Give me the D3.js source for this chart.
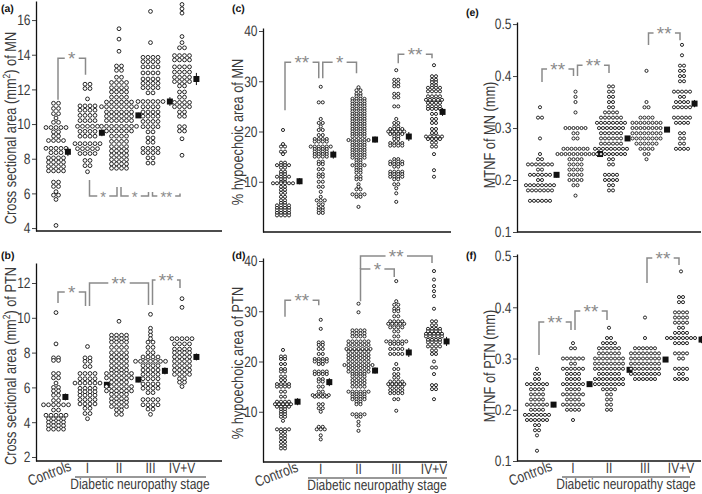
<!DOCTYPE html>
<html><head><meta charset="utf-8">
<script src="https://cdn.jsdelivr.net/npm/d3@7"></script>
<style>
body{margin:0;background:#fff}
text{font-family:"Liberation Sans",Arial,sans-serif;-webkit-font-smoothing:antialiased;text-rendering:geometricPrecision}
</style></head><body><svg id="c" width="702" height="494"></svg>
<script>
const groups = ["Controls", "I", "II", "III", "IV+V"];

// Each group: rows of [value, number of subjects at that value]
// (a) Cross sectional area of MN (mm2)
const csaMNRows = [
  [[11.2,2],[10.9,2],[10.6,2],[10.35,1],[10.1,2],[9.8,5],[9.55,2],[9.3,2],[9.05,4],[8.6,5],[8.35,3],[8.05,4],[7.8,4],[7.55,4],[7.3,4],[6.65,2],[6.4,2],[6.1,1],[5.9,2],[5.65,1],[4.15,1]],
  [[12.3,2],[12.05,2],[11.45,1],[11.05,4],[10.8,4],[10.5,4],[10.2,4],[9.87,5],[9.58,4],[9.3,4],[8.87,6],[8.58,5],[8.3,4],[7.9,2],[7.6,2],[7.25,1]],
  [[15.5,1],[14.9,1],[14.2,1],[13.35,2],[13.1,2],[12.7,2],[12.4,4],[12.1,4],[11.85,4],[11.55,4],[11.27,6],[11.0,8],[10.7,6],[10.45,6],[10.2,6],[9.87,8],[9.6,6],[9.3,4],[9.0,4],[8.7,4],[8.45,4],[8.2,4],[7.95,4],[7.7,4],[7.45,4]],
  [[16.5,1],[14.7,1],[13.85,4],[13.6,4],[13.3,4],[12.95,4],[12.6,4],[12.35,4],[12.1,4],[11.8,2],[11.3,6],[11.0,4],[10.7,4],[10.45,4],[10.15,4],[9.85,4],[9.55,2],[9.2,2],[8.95,2],[8.6,4],[8.35,4],[8.05,2],[7.75,2]],
  [[16.9,1],[16.65,1],[16.4,1],[15.05,1],[14.7,1],[14.4,2],[13.95,4],[13.7,4],[13.3,4],[13.0,4],[12.7,4],[12.45,4],[12.2,2],[11.85,2],[11.55,2],[11.25,4],[11.0,4],[10.7,2],[10.45,2],[9.85,2],[9.6,2],[9.15,1],[8.2,1]]
];
const csaMNMeans = [8.4, 9.5, 10.5, 11.3, 12.6];
const csaMNSE = [0.25, 0.2, 0.15, 0.25, 0.35];

// (b) Cross sectional area of PTN (mm2)
const csaPTNRows = [
  [[10.3,1],[8.5,1],[7.7,2],[7.55,2],[6.8,2],[6.55,2],[6.25,1],[6.0,2],[5.8,2],[5.55,2],[5.25,2],[5.0,6],[4.7,2],[4.4,5],[4.2,4],[4.0,4],[3.8,4],[3.6,4]],
  [[8.35,1],[7.7,2],[7.5,2],[7.2,2],[6.8,4],[6.5,4],[6.25,6],[5.95,4],[5.75,4],[5.55,4],[5.3,4],[5.05,4],[4.8,2],[4.5,2],[4.2,1]],
  [[9.8,1],[9.0,4],[8.8,4],[8.6,4],[8.3,4],[8.0,4],[7.75,4],[7.5,4],[7.25,4],[7.0,4],[6.8,6],[6.55,6],[6.3,4],[6.05,6],[5.8,6],[5.6,4],[5.35,4],[5.15,4],[4.9,4],[4.7,2],[4.45,2]],
  [[10.2,1],[9.4,1],[9.2,1],[9.0,1],[8.8,1],[8.6,2],[8.3,2],[8.0,2],[7.75,4],[7.5,7],[7.25,4],[7.0,4],[6.75,4],[6.5,4],[6.2,4],[5.95,4],[5.7,2],[5.3,4],[5.0,4],[4.75,2],[4.45,1]],
  [[11.1,1],[10.6,1],[8.8,5],[8.5,4],[8.2,4],[8.0,4],[7.75,4],[7.5,4],[7.25,4],[7.0,4],[6.75,4],[6.5,2],[6.3,2],[6.05,1]]
];
const csaPTNMeans = [5.45, 6.15, 6.45, 6.95, 7.75];
const csaPTNSE = [0.2, 0.15, 0.15, 0.2, 0.2];

// (c) % hypoechoic area of MN
const hypoMNRows = [
  [[20.3,1],[17.5,1],[17.0,2],[16.0,2],[15.5,1],[13.8,2],[13.3,4],[12.8,2],[12.0,2],[11.5,2],[11.0,4],[10.5,2],[10.0,2],[9.7,6],[9.0,2],[8.4,2],[7.8,2],[7.0,2],[6.3,2],[5.8,2],[5.3,4],[4.8,4],[4.3,4],[3.8,4],[3.3,4]],
  [[28.9,1],[25.8,2],[22.5,1],[21.7,2],[21.0,1],[20.3,2],[19.3,2],[18.5,4],[18.0,4],[17.0,6],[16.5,4],[16.0,4],[15.5,4],[15.0,4],[14.0,2],[13.5,2],[12.5,2],[11.5,2],[11.0,2],[10.0,2],[9.0,2],[8.0,1],[7.0,1],[6.3,3],[5.5,2],[4.8,2],[4.3,2],[3.8,2]],
  [[28.8,1],[28.2,2],[27.5,2],[27.0,2],[26.5,4],[26.0,4],[25.5,4],[25.0,4],[24.5,4],[24.0,4],[23.5,4],[23.0,4],[22.5,4],[22.0,4],[21.5,4],[21.0,4],[20.5,4],[20.0,4],[19.5,4],[19.0,4],[18.3,6],[17.8,4],[17.3,4],[16.8,4],[16.3,4],[15.8,4],[15.3,4],[14.8,4],[14.3,2],[13.8,2],[13.3,4],[12.8,2],[12.3,2],[11.8,2],[11.0,2],[10.5,2],[9.5,1],[9.0,1],[8.5,2],[7.5,4],[7.0,2],[5.0,1]],
  [[32.2,1],[30.3,2],[29.6,2],[29.0,2],[27.5,2],[26.8,2],[25.0,2],[22.5,1],[21.7,2],[21.0,2],[20.5,4],[20.0,5],[19.5,4],[19.0,2],[18.5,2],[17.7,4],[17.2,4],[14.5,2],[14.0,4],[13.5,4],[13.0,2],[12.0,4],[11.5,4],[11.0,4],[10.5,2],[9.5,2],[8.7,1],[7.7,1],[6.0,1]],
  [[33.2,1],[31.0,2],[30.3,2],[29.8,2],[29.2,2],[28.7,4],[28.0,4],[27.0,4],[26.3,5],[25.7,4],[25.0,4],[24.5,4],[23.5,2],[22.5,2],[21.7,2],[20.5,2],[19.7,2],[19.0,5],[18.5,4],[17.8,2],[17.0,2],[15.5,1],[12.3,1],[11.0,1]]
];
const hypoMNMeans = [10.1, 15.4, 18.4, 19.0, 23.9];
const hypoMNSE = [0.6, 0.8, 0.6, 0.9, 0.8];

// (d) % hypoechoic area of PTN
const hypoPTNRows = [
  [[22.3,1],[21.0,2],[20.5,2],[19.5,2],[18.5,2],[18.0,2],[17.0,2],[16.3,2],[15.5,4],[15.0,4],[14.0,2],[13.0,2],[12.0,4],[11.5,5],[11.0,4],[10.5,2],[10.0,2],[9.5,2],[9.0,2],[8.2,1],[6.5,4],[6.0,2],[5.3,2],[4.7,2],[4.0,2],[3.3,2],[2.7,2]],
  [[28.3,1],[26.5,1],[23.8,2],[23.3,2],[22.5,2],[21.5,2],[20.5,4],[20.0,4],[19.5,2],[18.0,4],[17.5,4],[16.5,2],[16.0,2],[15.0,2],[14.0,2],[13.3,5],[13.0,4],[11.5,2],[10.7,2],[10.0,1],[7.0,2],[6.5,3],[5.3,1],[4.5,1]],
  [[31.5,1],[29.8,1],[26.2,4],[25.6,4],[25.0,4],[24.0,6],[23.3,6],[22.5,7],[22.0,6],[21.3,6],[20.7,6],[20.0,6],[19.3,8],[18.7,6],[18.0,6],[17.5,4],[17.0,4],[16.3,4],[15.7,4],[15.0,4],[14.0,6],[13.5,4],[13.0,4],[12.5,4],[12.0,2],[11.5,2],[9.5,4],[9.0,2],[8.0,1],[7.3,1],[6.2,1]],
  [[36.0,1],[32.0,1],[31.3,2],[30.5,2],[30.0,2],[29.0,2],[28.0,4],[27.5,5],[26.8,4],[26.0,2],[25.0,2],[24.0,6],[23.5,4],[22.5,4],[21.5,4],[19.5,1],[18.5,2],[17.5,2],[16.8,2],[16.0,4],[15.5,5],[15.0,4],[14.3,4],[13.7,4],[12.5,2],[10.2,1]],
  [[38.0,1],[36.3,1],[35.0,1],[34.0,1],[33.0,1],[30.5,1],[28.0,2],[27.2,2],[26.5,4],[26.0,4],[25.5,5],[25.0,5],[24.3,4],[23.8,4],[23.0,4],[22.2,2],[21.5,2],[20.0,1],[18.8,2],[17.5,1],[15.3,2],[14.5,2],[12.5,1]]
];
const hypoPTNMeans = [12.0, 15.9, 18.2, 21.8, 24.0];
const hypoPTNSE = [0.7, 0.8, 0.6, 0.9, 0.9];

// (e) MTNF of MN (mm)
const mtnfMNRows = [
  [[0.34,1],[0.32,2],[0.28,1],[0.25,1],[0.24,2],[0.23,7],[0.22,2],[0.21,6],[0.20,2],[0.19,8],[0.18,7],[0.16,6]],
  [[0.37,1],[0.36,1],[0.35,1],[0.33,1],[0.30,6],[0.29,2],[0.28,2],[0.26,7],[0.25,10],[0.24,4],[0.23,4],[0.22,4],[0.21,4],[0.20,4],[0.19,2],[0.17,1]],
  [[0.38,2],[0.37,2],[0.36,2],[0.35,2],[0.34,2],[0.33,4],[0.32,6],[0.31,8],[0.30,7],[0.29,6],[0.28,6],[0.27,6],[0.26,9],[0.25,8],[0.24,2],[0.23,2],[0.21,4],[0.20,4],[0.19,2],[0.18,2]],
  [[0.41,1],[0.35,1],[0.34,2],[0.32,4],[0.31,8],[0.30,8],[0.29,8],[0.28,8],[0.27,6],[0.26,4],[0.25,2],[0.24,1]],
  [[0.46,1],[0.44,1],[0.42,2],[0.41,2],[0.40,2],[0.39,2],[0.37,5],[0.36,2],[0.35,4],[0.34,5],[0.32,5],[0.31,4],[0.29,2],[0.28,2],[0.27,2],[0.26,4]]
];
const mtnfMNMeans = [0.21, 0.25, 0.28, 0.297, 0.347];
const mtnfMNSE = [0.005, 0.005, 0.004, 0.004, 0.007];

// (f) MTNF of PTN (mm)
const mtnfPTNRows = [
  [[0.28,1],[0.27,2],[0.26,2],[0.25,6],[0.24,4],[0.23,4],[0.22,4],[0.21,6],[0.20,4],[0.19,7],[0.18,6],[0.17,2],[0.16,2],[0.15,1],[0.12,1]],
  [[0.33,1],[0.32,2],[0.30,6],[0.29,2],[0.28,6],[0.27,4],[0.26,4],[0.25,6],[0.24,4],[0.23,6],[0.22,4],[0.21,6],[0.20,4],[0.18,1]],
  [[0.36,1],[0.34,2],[0.33,4],[0.32,6],[0.31,6],[0.30,8],[0.29,8],[0.28,8],[0.27,6],[0.26,8],[0.25,8],[0.24,4],[0.23,2],[0.22,2],[0.21,2],[0.20,2]],
  [[0.38,1],[0.34,1],[0.32,6],[0.31,8],[0.30,8],[0.29,8],[0.28,8],[0.27,8],[0.26,6]],
  [[0.47,1],[0.42,2],[0.41,2],[0.39,4],[0.38,4],[0.37,4],[0.36,2],[0.35,4],[0.34,8],[0.33,4],[0.31,4],[0.30,2],[0.28,4],[0.27,2],[0.26,4]]
];
const mtnfPTNMeans = [0.21, 0.25, 0.278, 0.298, 0.337];
const mtnfPTNSE = [0.005, 0.005, 0.004, 0.004, 0.007];

// Significance annotations: [from group, to group, label, bar level, left end, right end] (data units)
const csaMNSig = [[0,1,"*",13.8,11.4,12.85],[1,2,"*",5.85,6.77,6.37],[2,3,"*",5.85,6.37,6.08],[3,4,"**",5.85,6.08,6.0]];
const csaPTNSig = [[0,1,"*",11.48,10.85,10.68],[1,3,"**",12.0,10.68,10.74],[3,4,"**",12.17,10.74,11.71]];
const hypoMNSig = [[0,1,"**",33.8,24.25,30.6],[1,2,"*",33.8,30.6,31.6],[3,4,"**",35.4,33.6,34.6]];
const hypoPTNSig = [[0,1,"**",32.2,28.9,31.2],[2,3,"*",38.4,32.0,36.8],[2,4,"**",41.0,38.4,39.6]];
const mtnfMNSig = [[0,1,"**",0.4135,0.3885,0.4],[1,2,"**",0.421,0.4,0.4058],[3,4,"**",0.4827,0.4596,0.469]];
const mtnfPTNSig = [[0,1,"**",0.3712,0.3068,0.3556],[1,2,"**",0.3927,0.3556,0.3751],[3,4,"**",0.496,0.4473,0.4824]];

const yTicksCSAMN = [4,6,8,10,12,14,16];
const yTicksCSAPTN = [2,4,6,8,10,12];
const yTicksHypo = [10,20,30,40];
const yTicksMTNF = [0.1,0.2,0.3,0.4,0.5];

const svg = d3.select("#c");
const TXT = "#3a3a3a", SIG = "#8a8a8a";
const NX = 0.8; // horizontal condensing to mimic a narrow sans face

const panels = [
  {lab:"(a)", labPos:[1,12], rows:csaMNRows, means:csaMNMeans, se:csaMNSE, sig:csaMNSig, below:[false,true,true,true],
   yDom:[3.83,17.1], yRng:[231,1], ticks:yTicksCSAMN, fmt:d3.format("d"), ax:36, xEnd:222, xRng:[56,182], r:1.9, sp:5,
   title:["Cross sectional area (mm","2",") of MN"], tPos:[16,128], bottom:false},
  {lab:"(b)", labPos:[1,259], rows:csaPTNRows, means:csaPTNMeans, se:csaPTNSE, sig:csaPTNSig, below:[false,false,false],
   yDom:[1.77,13.15], yRng:[461,263], ticks:yTicksCSAPTN, fmt:d3.format("d"), ax:36, xEnd:222, xRng:[56,182], r:1.9, sp:5,
   title:["Cross sectional area (mm","2",") of PTN"], tPos:[16,366], bottom:true, under:[75,206], stageX:140},
  {lab:"(c)", labPos:[232,12], rows:hypoMNRows, means:hypoMNMeans, se:hypoMNSE, sig:hypoMNSig, below:[false,false,false],
   yDom:[0,40.6], yRng:[232,28], ticks:yTicksHypo, fmt:d3.format("d"), ax:263, xEnd:451, xRng:[283,434], r:1.55, sp:4,
   title:["% hypoechoic area of MN"], tPos:[243,132], bottom:false},
  {lab:"(d)", labPos:[232,259], rows:hypoPTNRows, means:hypoPTNMeans, se:hypoPTNSE, sig:hypoPTNSig, below:[false,false,false],
   yDom:[0,40.6], yRng:[462,258], ticks:yTicksHypo, fmt:d3.format("d"), ax:263, xEnd:447, xRng:[283,434], r:1.55, sp:4,
   title:["% hypoechoic area of PTN"], tPos:[243,363], bottom:true, under:[308,447], stageX:377},
  {lab:"(e)", labPos:[466,16], rows:mtnfMNRows, means:mtnfMNMeans, se:mtnfMNSE, sig:mtnfMNSig, below:[false,false,false],
   yDom:[0.1,0.504], yRng:[232,22], ticks:yTicksMTNF, fmt:d3.format(".1f"), ax:517, xEnd:701, xRng:[540,682], r:1.55, sp:4,
   title:["MTNF of MN (mm)"], tPos:[495,135], bottom:false},
  {lab:"(f)", labPos:[466,259], rows:mtnfPTNRows, means:mtnfPTNMeans, se:mtnfPTNSE, sig:mtnfPTNSig, below:[false,false,false],
   yDom:[0.1,0.504], yRng:[461,254], ticks:yTicksMTNF, fmt:d3.format(".1f"), ax:517, xEnd:701, xRng:[537,681], r:1.55, sp:4,
   title:["MTNF of PTN (mm)"], tPos:[495,366], bottom:true, under:[562,690], stageX:626}
];

panels.forEach(p => {
  const g = svg.append("g");
  const y = d3.scaleLinear().domain(p.yDom).range(p.yRng);
  const x = d3.scalePoint().domain(groups).range(p.xRng);
  const base = p.yRng[0];

  // panel label
  g.append("text").attr("x", p.labPos[0]).attr("y", p.labPos[1])
    .style("font-weight", "bold").style("font-size", "10.5px").attr("fill", "#111").text(p.lab);

  // y axis
  const yAxis = d3.axisLeft(y).tickValues(p.ticks).tickFormat(p.fmt).tickSize(4).tickSizeOuter(0);
  const ag = g.append("g").attr("transform", `translate(${p.ax},0)`).call(yAxis);
  ag.select(".domain").attr("stroke", "#111").attr("stroke-width", 1.3);
  ag.selectAll(".tick line").attr("stroke", "#444");
  ag.selectAll(".tick text").attr("fill", TXT).style("font-size", "15px")
    .attr("x", null).attr("transform", `translate(-5.5,0) scale(${NX},1)`);

  // x axis baseline
  g.append("line").attr("x1", p.ax).attr("x2", p.xEnd).attr("y1", base).attr("y2", base)
    .attr("stroke", "#111").attr("stroke-width", 1.3);

  // y title
  const t = g.append("text").attr("transform", `translate(${p.tPos[0]},${p.tPos[1]}) rotate(-90) scale(${NX},1)`)
    .attr("text-anchor", "middle").attr("fill", TXT).style("font-size", "16px");
  t.append("tspan").text(p.title[0]);
  if (p.title.length > 1) {
    t.append("tspan").attr("dy", -6).style("font-size", "10.5px").text(p.title[1]);
    t.append("tspan").attr("dy", 6).text(p.title[2]);
  }

  // dots
  p.rows.forEach((rows, gi) => {
    const cx = x(groups[gi]);
    const pts = [];
    rows.forEach(([v, n]) => {
      for (let i = 0; i < n; i++) pts.push({x: cx + (i - (n - 1) / 2) * p.sp, y: y(v)});
    });
    g.append("g").selectAll("circle").data(pts).join("circle")
      .attr("cx", d => d.x).attr("cy", d => d.y).attr("r", p.r)
      .attr("fill", "#fff").attr("stroke", "#111").attr("stroke-width", 0.9);

    // mean marker placed beside the row at the mean level
    const my = y(p.means[gi]);
    let half = p.r;
    rows.forEach(([v, n]) => {
      if (Math.abs(y(v) - my) <= 3) half = Math.max(half, (n - 1) / 2 * p.sp + p.r);
    });
    const mx = cx + half + 5;
    g.append("line").attr("x1", mx).attr("x2", mx)
      .attr("y1", y(p.means[gi] - p.se[gi])).attr("y2", y(p.means[gi] + p.se[gi]))
      .attr("stroke", "#111").attr("stroke-width", 1);
    g.append("rect").attr("x", mx - 3).attr("y", my - 3).attr("width", 6).attr("height", 6).attr("fill", "#111");
  });

  // significance brackets
  p.sig.forEach((s, si) => {
    const [a, b, label, lev, le, re] = s;
    const below = p.below[si];
    const xl = x(groups[a]) + 2, xr = x(groups[b]) - 2;
    const yl = y(lev), ya = y(le), yb = y(re);
    const mid = (xl + xr) / 2;
    const fs = below ? 15 : 19;
    const tx = g.append("text").attr("x", mid).attr("y", yl).attr("text-anchor", "middle")
      .attr("fill", SIG).style("font-size", fs + "px").text(label);
    const bb = tx.node().getBBox();
    tx.attr("y", yl + fs * (below ? 0.42 : 0.36));
    const gap = bb.width / 2 + 3;
    g.append("path")
      .attr("d", `M${xl},${ya}V${yl}H${mid - gap}M${mid + gap},${yl}H${xr}V${yb}`)
      .attr("fill", "none").attr("stroke", SIG).attr("stroke-width", 1.5);
  });

  // bottom category labels
  if (p.bottom) {
    groups.forEach((gname, gi) => {
      const cx = x(gname);
      if (gi === 0) {
        g.append("text").attr("transform", `translate(${cx + 16},${base + 9}) rotate(-21) scale(${NX},1)`)
          .attr("text-anchor", "end").attr("fill", TXT).style("font-size", "15px").text(gname);
      } else {
        g.append("text").attr("transform", `translate(${cx},${base + 12}) scale(${NX},1)`)
          .attr("text-anchor", "middle").attr("fill", TXT).style("font-size", "15px").text(gname);
      }
    });
    g.append("line").attr("x1", p.under[0]).attr("x2", p.under[1]).attr("y1", base + 16).attr("y2", base + 16)
      .attr("stroke", "#333").attr("stroke-width", 1.2);
    g.append("text").attr("transform", `translate(${p.stageX},${base + 28}) scale(${NX},1)`)
      .attr("text-anchor", "middle").attr("fill", TXT).style("font-size", "15px").text("Diabetic neuropathy stage");
  }
});
</script></body></html>
